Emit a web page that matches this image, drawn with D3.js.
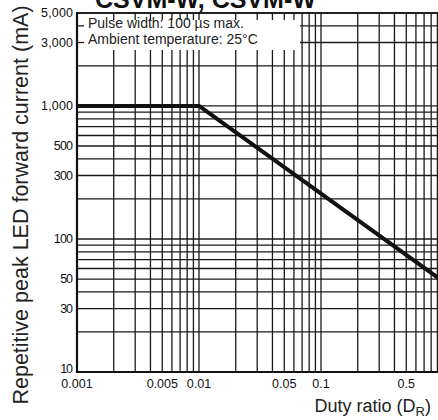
<!DOCTYPE html>
<html lang="en">
<head>
<meta charset="UTF-8">
<title>Repetitive peak LED forward current</title>
<script src="https://d3js.org/d3.v7.min.js"></script>
<style>
  html, body { margin: 0; padding: 0; background: #fff; }
  svg { display: block; overflow: hidden; }
  .grid line { stroke: #1a1a1a; stroke-width: 1.3; }
  .ticklabel { font-family: "Liberation Sans", Arial, sans-serif; font-size: 12.5px; fill: #111; }
  .axistitle { font-family: "Liberation Sans", Arial, sans-serif; font-size: 18px; fill: #222; }
  .legend { font-family: "Liberation Sans", Arial, sans-serif; font-size: 14px; fill: #222; }
  .title { font-family: "Liberation Sans", Arial, sans-serif; font-size: 25px; font-weight: bold; fill: #111; }
</style>
</head>
<body>
<div id="chart"></div>
<script>
// ## Data
const dutyRatio = [0.001, 0.01, 1];
const peakCurrent = [1000, 1000, 48];

const xTicks = [0.001, 0.005, 0.01, 0.05, 0.1, 0.5, 1];
const xTickLabels = ["0.001", "0.005", "0.01", "0.05", "0.1", "0.5", "1"];
const yTicks = [10, 30, 50, 100, 300, 500, 1000, 3000, 5000];
const yTickLabels = ["10", "30", "50", "100", "300", "500", "1,000", "3,000", "5,000"];

const titleText = "CSVM-W, CSVM-W";
const legendLines = ["Pulse width: 100 \u00b5s max.", "Ambient temperature: 25\u00b0C"];

// ## Dimensions
const width = 438, height = 420;
const plot = {left: 77, right: 443, top: 13, bottom: 372};
const legendBox = {x1: 78, x2: 300, y1: 14, y2: 50};

const svg = d3.select("#chart").append("svg")
    .attr("width", width)
    .attr("height", height);

// ## Scales
const x = d3.scaleLog().domain([0.001, 1]).range([plot.left, plot.right]);
const y = d3.scaleLog().domain([10, 5000]).range([plot.bottom, plot.top]);

// grid values: 1..9 in each decade
const xGrid = [];
[0.001, 0.01, 0.1].forEach(d => d3.range(1, 10).forEach(m => xGrid.push(d * m)));
xGrid.push(1);
const yGrid = [];
[10, 100, 1000].forEach(d => d3.range(1, 10).forEach(m => { if (d * m <= 5000) yGrid.push(d * m); }));

// ## Grid
const grid = svg.append("g").attr("class", "grid");
grid.selectAll(".vx").data(xGrid).join("line")
    .attr("x1", d => x(d)).attr("x2", d => x(d))
    .attr("y1", plot.top).attr("y2", plot.bottom);
grid.selectAll(".hy").data(yGrid).join("line")
    .attr("x1", plot.left).attr("x2", plot.right)
    .attr("y1", d => y(d)).attr("y2", d => y(d));

// legend box hides the grid, short ticks stay on the frame
svg.append("rect")
    .attr("x", legendBox.x1).attr("y", legendBox.y1)
    .attr("width", legendBox.x2 - legendBox.x1)
    .attr("height", legendBox.y2 - legendBox.y1)
    .attr("fill", "#fff");

const ticks = svg.append("g").attr("class", "grid");
ticks.selectAll(".tt").data(xGrid.filter(d => x(d) < legendBox.x2 && x(d) > plot.left + 1)).join("line")
    .attr("x1", d => x(d)).attr("x2", d => x(d))
    .attr("y1", plot.top).attr("y2", plot.top + 7);
ticks.selectAll(".tl").data(yGrid.filter(d => y(d) < legendBox.y2 && y(d) > plot.top + 1)).join("line")
    .attr("x1", plot.left).attr("x2", plot.left + 7)
    .attr("y1", d => y(d)).attr("y2", d => y(d));

legendLines.forEach((t, i) => {
  svg.append("text")
      .attr("class", "legend")
      .attr("x", 88)
      .attr("y", 28 + i * 16)
      .text(t);
});

// frame
svg.append("line").attr("x1", plot.left).attr("x2", plot.left)
    .attr("y1", plot.top - 1).attr("y2", plot.bottom + 1)
    .attr("stroke", "#111").attr("stroke-width", 2.2);
svg.append("line").attr("x1", plot.left - 1).attr("x2", plot.right)
    .attr("y1", plot.bottom).attr("y2", plot.bottom)
    .attr("stroke", "#111").attr("stroke-width", 2.2);
svg.append("line").attr("x1", plot.left).attr("x2", plot.right)
    .attr("y1", plot.top).attr("y2", plot.top)
    .attr("stroke", "#111").attr("stroke-width", 1.6);

// ## Curve
const pts = dutyRatio.map((d, i) => [d, peakCurrent[i]]);
svg.append("path")
    .datum(pts)
    .attr("fill", "none")
    .attr("stroke", "#111")
    .attr("stroke-width", 4)
    .attr("stroke-linejoin", "round")
    .attr("d", d3.line().x(d => x(d[0])).y(d => y(d[1])));

// ## Tick labels
svg.selectAll(".ylab").data(yTicks).join("text")
    .attr("class", "ticklabel")
    .attr("x", plot.left - 4)
    .attr("y", d => y(d) + (d === 10 ? 1 : 4))
    .attr("text-anchor", "end")
    .attr("textLength", (d, i) => yTickLabels[i].length * 6.4)
    .text((d, i) => yTickLabels[i]);

svg.selectAll(".xlab").data(xTicks).join("text")
    .attr("class", "ticklabel")
    .attr("x", d => x(d))
    .attr("y", plot.bottom + 16)
    .attr("text-anchor", "middle")
    .text((d, i) => xTickLabels[i]);

// ## Axis titles
svg.append("text")
    .attr("class", "axistitle")
    .attr("transform", "translate(28, 205) rotate(-90)")
    .attr("text-anchor", "middle")
    .style("font-size", "21.5px")
    .text("Repetitive peak LED forward current (mA)");

const xt = svg.append("text")
    .attr("class", "axistitle")
    .attr("x", 431)
    .attr("y", 412)
    .attr("text-anchor", "end");
xt.append("tspan").text("Duty ratio (D");
xt.append("tspan").attr("font-size", "13px").attr("dy", 4).text("R");
xt.append("tspan").attr("dy", -4).text(")");

// ## Title (cut by the top edge)
svg.append("text")
    .attr("class", "title")
    .attr("x", 95)
    .attr("y", 8)
    .text(titleText);
</script>
</body>
</html>
